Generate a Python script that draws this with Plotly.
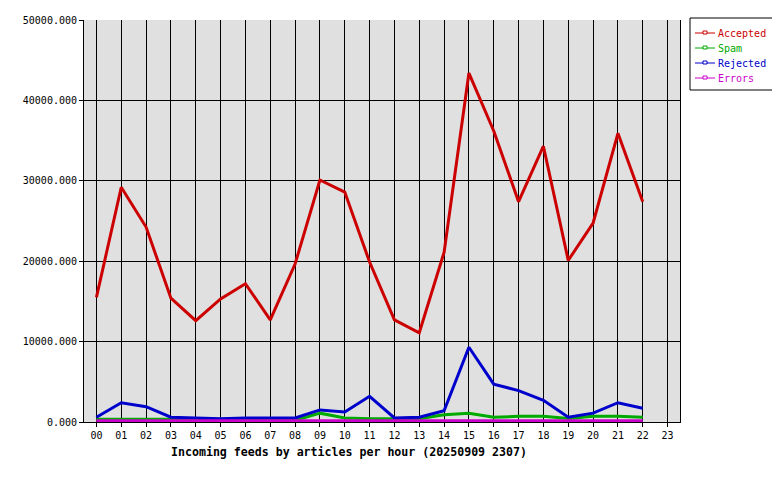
import plotly.graph_objects as go

hours = [f"{h:02d}" for h in range(24)]
data_hours = list(range(23))
accepted = [15500, 29200, 24250, 15400, 12600, 15300, 17200, 12700, 19650, 30100, 28600, 19900,
            12700, 11100, 21100, 43400, 36200, 27400, 34300, 20100, 24750, 35900, 27400]
spam = [350, 350, 350, 350, 200, 200, 200, 200, 200, 1100, 500, 400,
        400, 400, 900, 1100, 600, 700, 700, 450, 700, 700, 600]
rejected = [600, 2400, 1900, 600, 500, 400, 500, 500, 500, 1500, 1250, 3200,
            500, 600, 1400, 9300, 4700, 3900, 2700, 600, 1100, 2400, 1700]
errors = [150] * 23

series = [("Accepted", accepted, "#cc0000"), ("Spam", spam, "#00aa00"),
          ("Rejected", rejected, "#0000cc"), ("Errors", errors, "#cc00cc")]

FONT = "DejaVu Sans Mono"
# page has an 8px body margin; plot area on page: x 84..680, y 20..422
W, H = 772, 472
L, R, T, B = 76, 100, 12, 58
PX0, PY1 = 84, 422
PW, PH = 596, 402


def px(x):
    return (x - PX0) / PW


def py(y):
    return (PY1 - y) / PH


fig = go.Figure()
shapes = []
annotations = []
# legend box
shapes.append(dict(type="rect", xref="paper", yref="paper", x0=px(690), x1=px(773),
                   y0=py(90), y1=py(18), line=dict(color="black", width=1), fillcolor="white"))
for i, (name, vals, col) in enumerate(series):
    fig.add_trace(go.Scatter(x=data_hours, y=vals, mode="lines", name=name,
                             line=dict(color=col, width=3), showlegend=False))
    ly = 33 + 15 * i
    shapes.append(dict(type="line", xref="paper", yref="paper", x0=px(695), x1=px(715),
                       y0=py(ly), y1=py(ly), line=dict(color=col, width=1)))
    shapes.append(dict(type="rect", xref="paper", yref="paper", x0=px(703), x1=px(707),
                       y0=py(ly + 1), y1=py(ly - 2), line=dict(color=col, width=1),
                       fillcolor="white"))
    annotations.append(dict(text=name, xref="paper", yref="paper", x=px(716), y=py(ly),
                            xanchor="left", yanchor="middle", showarrow=False,
                            font=dict(family=FONT, size=10, color=col)))

annotations.append(dict(text="<b>Incoming feeds by articles per hour (20250909 2307)</b>",
                        xref="paper", yref="paper", x=px(349), y=py(452),
                        xanchor="center", yanchor="middle", showarrow=False,
                        font=dict(family=FONT, size=11.6, color="black")))

fig.update_layout(
    width=W, height=H,
    margin=dict(l=L, r=R, t=T, b=B, autoexpand=False),
    paper_bgcolor="white", plot_bgcolor="#e0e0e0",
    font=dict(family=FONT, size=10, color="black"),
    showlegend=False,
    xaxis=dict(range=[-0.5, 23.5], tickmode="array", tickvals=list(range(24)), ticktext=hours,
               showgrid=True, gridcolor="black", gridwidth=1, zeroline=False,
               showline=True, linecolor="black", mirror=False,
               ticks="outside", ticklen=4, tickcolor="black", automargin=False),
    yaxis=dict(range=[0, 50000], tickvals=[0, 10000, 20000, 30000, 40000, 50000],
               tickformat=".3f", showgrid=True, gridcolor="black", gridwidth=1, zeroline=False,
               showline=True, linecolor="black", mirror=True,
               ticks="outside", ticklen=4, tickcolor="black", automargin=False),
    shapes=shapes,
    annotations=annotations,
)
fig.write_html("out.html")
